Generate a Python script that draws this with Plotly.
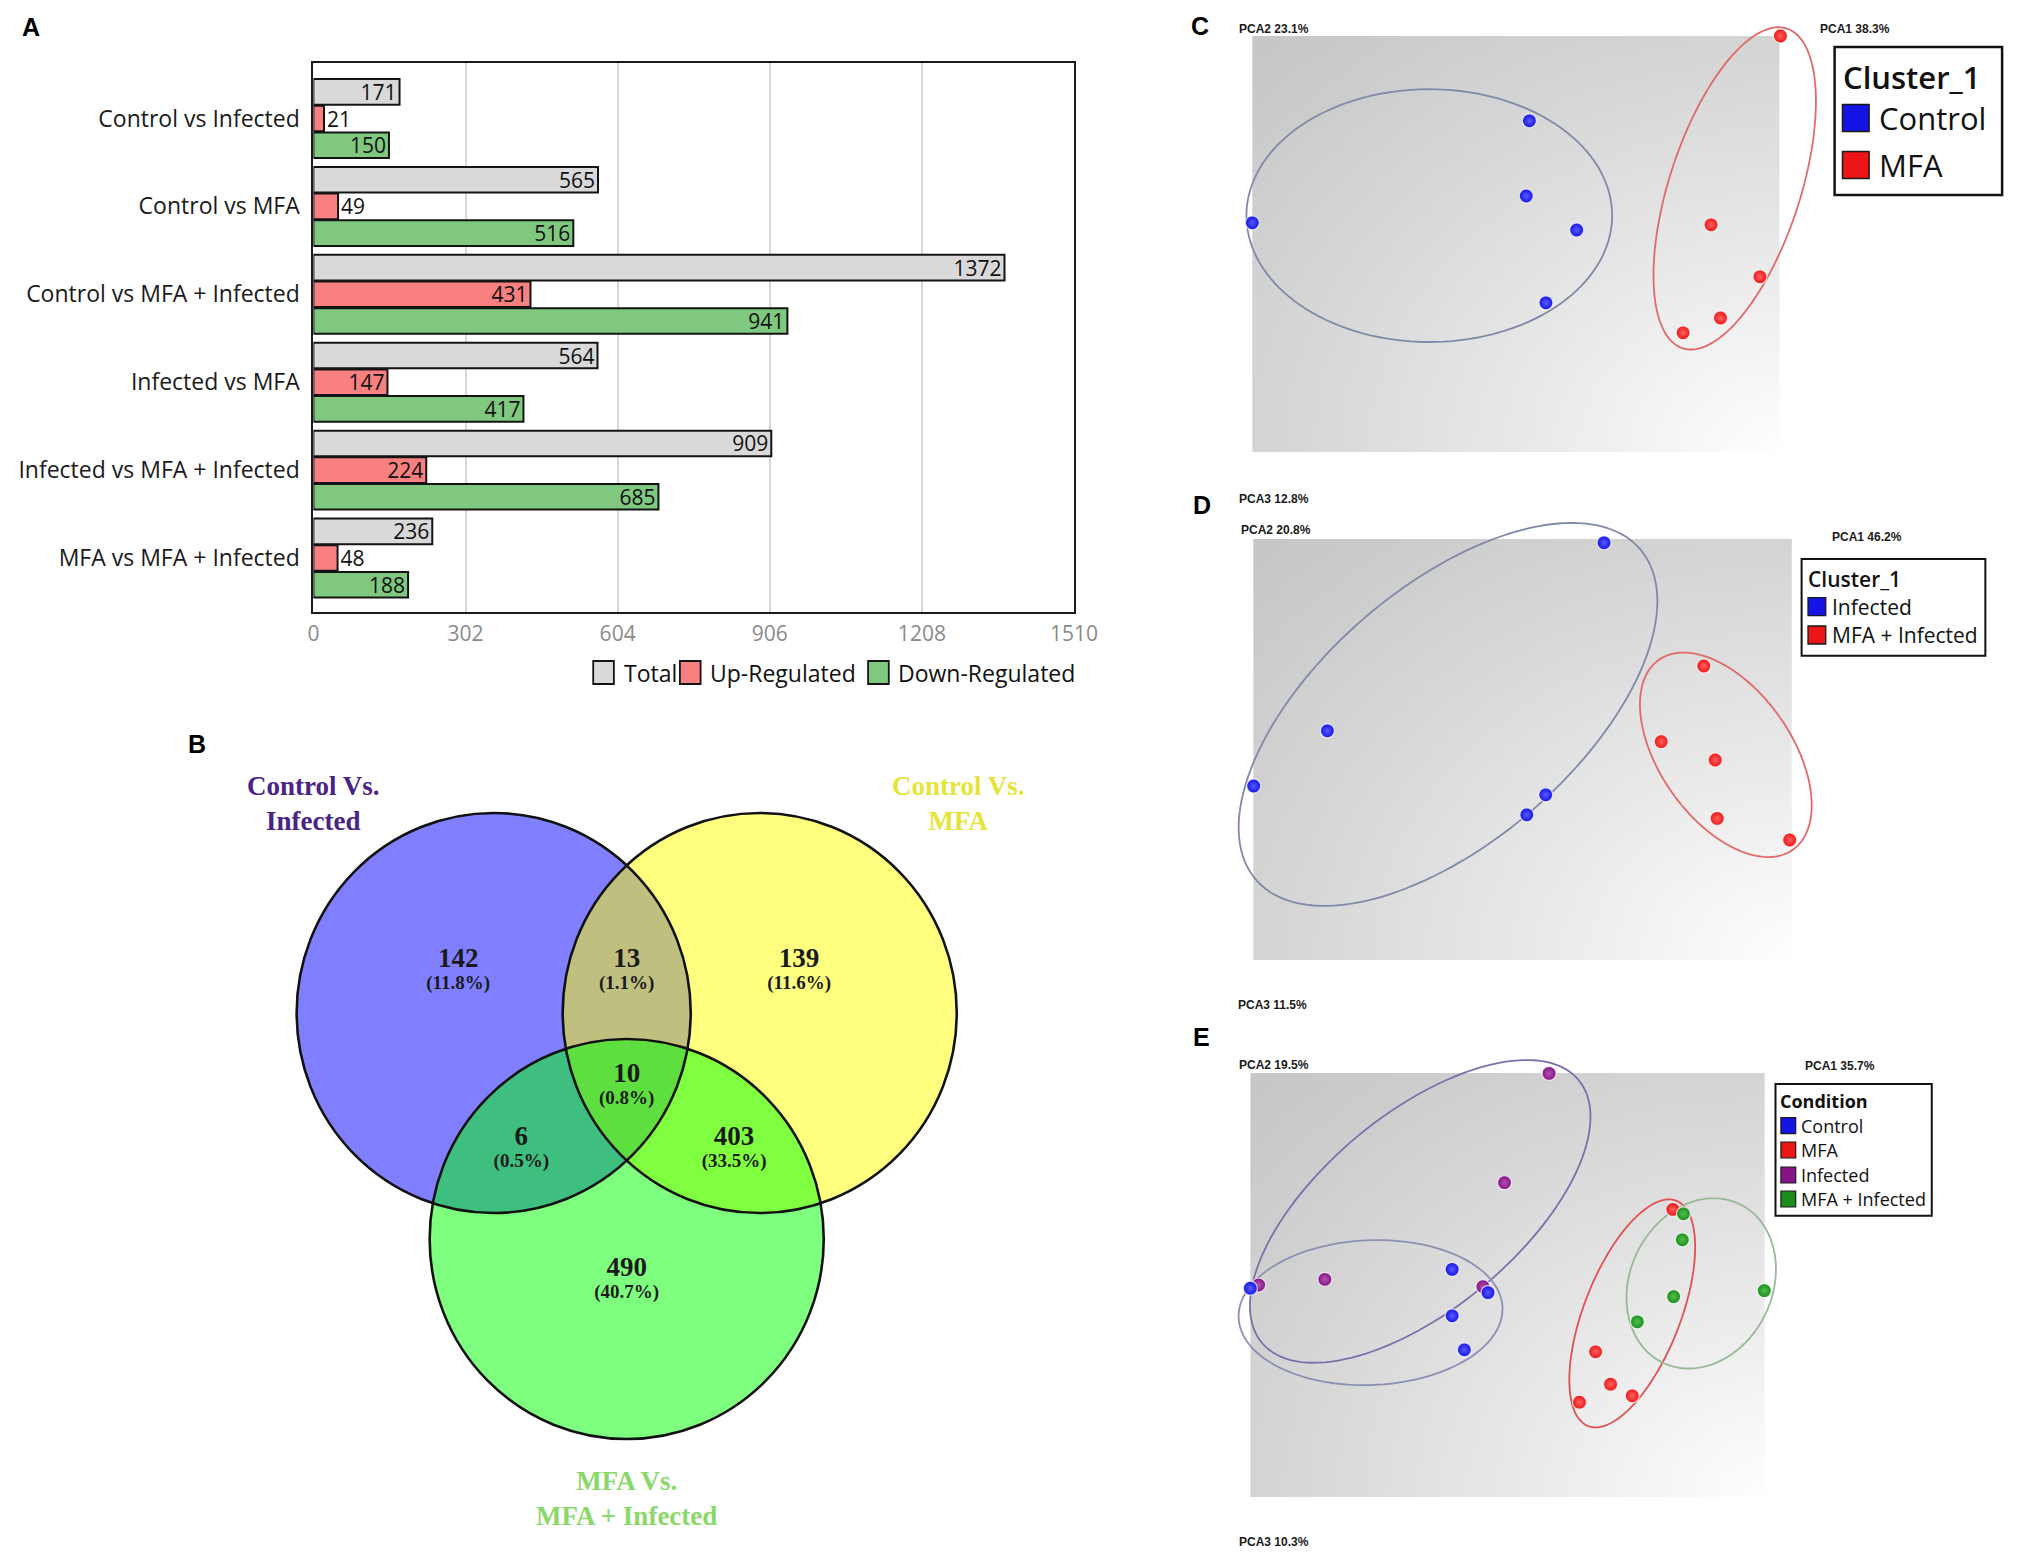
import base64, struct, zlib
import numpy as np
import plotly.graph_objects as go

W, H = 2033, 1558
def fx(x): return x / W
def fy(y): return 1 - y / H

# ---------------- Panel A data ----------------
comparisons = ["Control vs Infected", "Control vs MFA", "Control vs MFA + Infected",
               "Infected vs MFA", "Infected vs MFA + Infected", "MFA vs MFA + Infected"]
total_degs = [171, 565, 1372, 564, 909, 236]
up_regulated = [21, 49, 431, 147, 224, 48]
down_regulated = [150, 516, 941, 417, 685, 188]
bar_series = ["Total", "Up-Regulated", "Down-Regulated"]
x_ticks = [0, 302, 604, 906, 1208, 1510]

# ---------------- Panel B data ----------------
venn_sets = ["Control Vs.<br>Infected", "Control Vs.<br>MFA", "MFA Vs.<br>MFA + Infected"]
venn_counts = [142, 13, 139, 6, 10, 403, 490]   # CI only, CI&CM, CM only, CI&MI, all, CM&MI, MI only

# ---------------- Panels C-E data (PCA scores, plot units) ----------------
pcaC_control_x = [0.0, 70.3, 69.5, 82.3, 74.5]
pcaC_control_y = [57.3, 82.8, 64.0, 55.5, 37.3]
pcaC_mfa_x = [134.0, 116.4, 128.8, 118.8, 109.3]
pcaC_mfa_y = [104.0, 56.8, 43.8, 33.5, 29.8]

pcaD_infected_x = [89.0, 18.8, 0.1, 74.2, 69.4]
pcaD_infected_y = [104.3, 57.3, 43.5, 41.3, 36.3]
pcaD_mfainf_x = [114.3, 103.5, 117.2, 117.7, 136.1]
pcaD_mfainf_y = [73.5, 54.6, 50.0, 35.4, 30.0]

pcaE_infected_x = [75.8, 64.5, 18.9, 2.1, 59.0]
pcaE_infected_y = [105.9, 78.6, 54.4, 53.0, 52.6]
pcaE_control_x = [0.0, 51.2, 60.3, 51.2, 54.3]
pcaE_control_y = [52.2, 56.9, 51.1, 45.3, 36.8]
pcaE_mfa_x = [107.2, 87.6, 91.4, 96.9, 83.5]
pcaE_mfa_y = [71.9, 36.3, 28.2, 25.3, 23.7]
pcaE_mfainf_x = [109.9, 109.6, 130.4, 107.4, 98.2]
pcaE_mfainf_y = [70.8, 64.3, 51.6, 50.1, 43.8]

pca_variance_C = ["PCA2 23.1%", "PCA1 38.3%", "PCA3 12.8%"]
pca_variance_D = ["PCA2 20.8%", "PCA1 46.2%", "PCA3 11.5%"]
pca_variance_E = ["PCA2 19.5%", "PCA1 35.7%", "PCA3 10.3%"]

# group ellipses: (cx, cy, semi-major, semi-minor, angle deg)
ellC = [(44.9, 59.1, 46.4, 31.6, 0.0), (122.4, 65.9, 42.1, 16.6, 71.6)]
ellD = [(49.4, 61.4, 63.9, 32.1, 40.0), (119.9, 51.3, 29.2, 16.6, -54.0)]
ellE = [(43.1, 71.4, 51.9, 24.6, 39.0), (30.5, 46.1, 33.5, 18.1, 2.2),
        (96.9, 45.9, 30.3, 12.2, 68.2), (114.4, 53.4, 22.1, 18.0, 62.3)]

# ---------------- styles ----------------
SANS = "Open Sans"
SERIF = "Liberation Serif"
ARIAL = "Liberation Sans"
bar_colors = ["#d9d9d9", "#f88080", "#80c880"]
COL = {"Control": "#1414e6", "MFA": "#ec1616", "Infected": "#861486", "MFA + Infected": "#1c8c1c"}
COL_HI = {"Control": "#5a5aff", "MFA": "#ff6060", "Infected": "#b050b0", "MFA + Infected": "#50c050"}

fig = go.Figure()
shapes, annotations, images = [], [], []

# ================= Panel A =================
for name, vals, col in zip(bar_series, [total_degs, up_regulated, down_regulated], bar_colors):
    fig.add_trace(go.Bar(
        y=comparisons, x=vals, orientation="h", name=name,
        marker=dict(color=col, line=dict(color="#141414", width=2)),
        text=[str(v) for v in vals],
        textposition=["outside" if v < 60 else "inside" for v in vals],
        insidetextanchor="end", constraintext="none",
        textfont=dict(family=SANS, size=21, color="#111111"),
        cliponaxis=False, showlegend=False, hoverinfo="skip",
        xaxis="x", yaxis="y"))

# manual legend for panel A
legA = [("Total", 596, 625), ("Up-Regulated", 684, 713), ("Down-Regulated", 875, 903)]
for (lab, sx, tx), col in zip(legA, bar_colors):
    shapes.append(dict(type="rect", xref="paper", yref="paper",
                       x0=fx(sx), x1=fx(sx + 21), y0=fy(684), y1=fy(661),
                       fillcolor=col, line=dict(color="#141414", width=1.8)))
    annotations.append(dict(text=lab, xref="paper", yref="paper", x=fx(tx), y=fy(673),
                            xanchor="left", yanchor="middle", showarrow=False,
                            font=dict(family=SANS, size=23, color="#111111")))

# ================= Panel B (Venn) =================
VX0, VY0 = 630, 1013  # pixel origin of venn units
fig.update_layout(
    xaxis5=dict(domain=[fx(180), fx(1040)], range=[180 - VX0, 1040 - VX0], visible=False),
    yaxis5=dict(domain=[fy(1558), fy(740)], range=[VY0 - 1558, VY0 - 740], visible=False),
)
venn_centers = [(-135, 0), (135, 0), (0, -226)]
venn_r = 200
venn_fill = ["#0000ff", "#ffff00", "#00ff00"]
for (cx, cy), col in zip(venn_centers, venn_fill):
    shapes.append(dict(type="circle", xref="x5", yref="y5", layer="below",
                       x0=cx - venn_r, x1=cx + venn_r, y0=cy - venn_r, y1=cy + venn_r,
                       fillcolor=col, opacity=0.5, line=dict(width=0)))
for (cx, cy) in venn_centers:
    shapes.append(dict(type="circle", xref="x5", yref="y5", layer="below",
                       x0=cx - venn_r, x1=cx + venn_r, y0=cy - venn_r, y1=cy + venn_r,
                       fillcolor="rgba(0,0,0,0)", line=dict(color="#111111", width=2.6)))

venn_label_pos = [(-171, 53), (0, 53), (175, 53), (-107, -125), (0, -62), (109, -125), (0, -256)]
tot = sum(venn_counts)
pct_text = ["<b>(%.1f%%)</b>" % (c / tot * 100) for c in venn_counts]
fig.add_trace(go.Scatter(
    x=[p[0] for p in venn_label_pos], y=[p[1] for p in venn_label_pos],
    mode="text", text=["<b>%d</b>" % c for c in venn_counts],
    textfont=dict(family=SERIF, size=27, color="#1a1a1a"),
    cliponaxis=False, hoverinfo="skip", showlegend=False, xaxis="x5", yaxis="y5"))
fig.add_trace(go.Scatter(
    x=[p[0] for p in venn_label_pos], y=[p[1] - 24 for p in venn_label_pos],
    mode="text", text=pct_text,
    textfont=dict(family=SERIF, size=19, color="#1a1a1a"),
    cliponaxis=False, hoverinfo="skip", showlegend=False, xaxis="x5", yaxis="y5"))

venn_title_pos = [(-318, 210), (337, 210), (0, -485)]
venn_title_col = ["#4b2386", "#e4e43a", "#8ad86a"]
for txt_, (tx, ty), col in zip(venn_sets, venn_title_pos, venn_title_col):
    annotations.append(dict(text="<b>" + txt_.replace("<br>", "</b><br><b>") + "</b>",
                            xref="x5", yref="y5", x=tx, y=ty, showarrow=False,
                            xanchor="center", yanchor="middle", align="center",
                            font=dict(family=SERIF, size=27, color=col)))

# ================= PCA panels =================
S = 4.0  # px per unit


def gradient_png(n=96):
    u = np.linspace(0, 1, n)[None, :]
    v = np.linspace(0, 1, n)[:, None]
    d = np.clip(np.sqrt((1 - u) ** 2 + (1 - v) ** 2) / np.sqrt(2), 0, 1)
    val = 199 + 56 * (1 - d) ** 1.15
    arr = np.repeat(val[:, :, None], 3, axis=2).astype(np.uint8)
    raw = b"".join(b"\x00" + arr[i].tobytes() for i in range(n))

    def chunk(t, data):
        return (struct.pack(">I", len(data)) + t + data +
                struct.pack(">I", zlib.crc32(t + data) & 0xffffffff))
    png = (b"\x89PNG\r\n\x1a\n" +
           chunk(b"IHDR", struct.pack(">IIBBBBB", n, n, 8, 2, 0, 0, 0)) +
           chunk(b"IDAT", zlib.compress(raw, 9)) + chunk(b"IEND", b""))
    return "data:image/png;base64," + base64.b64encode(png).decode()


GRAD = gradient_png()


def ellipse_path(cx, cy, a, b, th_deg, n=140):
    t = np.linspace(0, 2 * np.pi, n)
    th = np.radians(th_deg)
    x = cx + a * np.cos(t) * np.cos(th) - b * np.sin(t) * np.sin(th)
    y = cy + a * np.cos(t) * np.sin(th) + b * np.sin(t) * np.cos(th)
    return "M " + " L ".join("%.2f,%.2f" % (xi, yi) for xi, yi in zip(x, y)) + " Z"


panels = [
    dict(ax="2", box=(1265, 1800, 36, 452), region=(1240, 1850, 15, 462),
         groups=[("Control", pcaC_control_x, pcaC_control_y), ("MFA", pcaC_mfa_x, pcaC_mfa_y)],
         ells=ellC, ellcol=["#7f8aa6", "#e06a6a"]),
    dict(ax="3", box=(1266, 1812.5, 539, 960), region=(1240, 1850, 515, 968),
         groups=[("Control", pcaD_infected_x, pcaD_infected_y), ("MFA", pcaD_mfainf_x, pcaD_mfainf_y)],
         ells=ellD, ellcol=["#7f8aa6", "#e06a6a"]),
    dict(ax="4", box=(1263, 1785, 1073, 1497), region=(1240, 1850, 1050, 1505),
         groups=[("Infected", pcaE_infected_x, pcaE_infected_y), ("Control", pcaE_control_x, pcaE_control_y),
                 ("MFA", pcaE_mfa_x, pcaE_mfa_y), ("MFA + Infected", pcaE_mfainf_x, pcaE_mfainf_y)],
         ells=ellE, ellcol=["#7e6fa8", "#8a90b0", "#e05252", "#98b898"]),
]

for p in panels:
    L, R, T, B = p["box"]
    rL, rR, rT, rB = p["region"]
    a = p["ax"]
    fig.update_layout(**{
        "xaxis" + a: dict(domain=[fx(rL), fx(rR)], range=[(rL - L) / S, (rR - L) / S], visible=False),
        "yaxis" + a: dict(domain=[fy(rB), fy(rT)], range=[(B - rB) / S, (B - rT) / S], visible=False),
    })
    bw, bh = (R - L) / S, (B - T) / S
    images.append(dict(source=GRAD, xref="x" + a, yref="y" + a, x=0, y=bh, sizex=bw, sizey=bh,
                       xanchor="left", yanchor="top", sizing="stretch", layer="below"))
    for e, c in zip(p["ells"], p["ellcol"]):
        shapes.append(dict(type="path", xref="x" + a, yref="y" + a, layer="between",
                           path=ellipse_path(*e), line=dict(color=c, width=1.8)))
    for g, xs, ys in p["groups"]:
        fig.add_trace(go.Scatter(
            x=xs, y=ys, mode="markers", name=g, showlegend=False, hoverinfo="skip",
            marker=dict(size=14, color=COL[g],
                        gradient=dict(type="radial", color=COL_HI[g]),
                        line=dict(color="rgba(255,255,255,0.75)", width=1.2)),
            cliponaxis=False, xaxis="x" + a, yaxis="y" + a))


def txt(t, x, y, size, family=SANS, color="#111111", anchor="left", weight=None):
    f = dict(family=family, size=size, color=color)
    if weight:
        f["weight"] = weight
    annotations.append(dict(text=t, xref="paper", yref="paper", x=fx(x), y=fy(y),
                            xanchor=anchor, yanchor="middle", showarrow=False, font=f))


# PCA axis labels
for t, x, y in [(pca_variance_C[0], 1249, 29), (pca_variance_C[1], 1839, 29),
                (pca_variance_C[2], 1249, 499),
                (pca_variance_D[0], 1251, 530), (pca_variance_D[1], 1851, 537),
                (pca_variance_D[2], 1248, 1005),
                (pca_variance_E[0], 1249, 1065), (pca_variance_E[1], 1824, 1066),
                (pca_variance_E[2], 1249, 1542)]:
    txt("<b>%s</b>" % t, x, y, 12, family=ARIAL, color="#1a1a1a")

# PCA legend (C)
shapes.append(dict(type="rect", xref="paper", yref="paper", x0=fx(1856), x1=fx(2026), y0=fy(195), y1=fy(47),
                   fillcolor="white", line=dict(color="#111111", width=2.5)))
txt("Cluster_1", 1862, 77, 31, weight=600)
for lab, yc in [("Control", 118), ("MFA", 165)]:
    shapes.append(dict(type="rect", xref="paper", yref="paper", x0=fx(1864), x1=fx(1891),
                       y0=fy(yc + 13.5), y1=fy(yc - 13.5), fillcolor=COL[lab],
                       line=dict(color="#1a1a1a", width=1.5)))
    txt(lab, 1899, yc, 31)

# legend D
shapes.append(dict(type="rect", xref="paper", yref="paper", x0=fx(1822.5), x1=fx(2009), y0=fy(655.7), y1=fy(559),
                   fillcolor="white", line=dict(color="#111111", width=2)))
txt("Cluster_1", 1827, 579, 21, weight=600)
for lab, col, yc in [("Infected", COL["Control"], 606.7), ("MFA + Infected", COL["MFA"], 635)]:
    shapes.append(dict(type="rect", xref="paper", yref="paper", x0=fx(1829), x1=fx(1847),
                       y0=fy(yc + 9), y1=fy(yc - 9), fillcolor=col, line=dict(color="#1a1a1a", width=1.3)))
    txt(lab, 1851, yc, 21)

# legend E
shapes.append(dict(type="rect", xref="paper", yref="paper", x0=fx(1796), x1=fx(1954.6), y0=fy(1215.7), y1=fy(1084),
                   fillcolor="white", line=dict(color="#111111", width=2)))
txt("<b>Condition</b>", 1799, 1101, 18)
for lab, yc in [("Control", 1125.7), ("MFA", 1150), ("Infected", 1175), ("MFA + Infected", 1199)]:
    shapes.append(dict(type="rect", xref="paper", yref="paper", x0=fx(1801.5), x1=fx(1816.5),
                       y0=fy(yc + 8), y1=fy(yc - 8), fillcolor=COL[lab], line=dict(color="#1a1a1a", width=1.2)))
    txt(lab, 1820, yc, 18)

# Panel letters
for lab, x, y in [("A", 25, 27), ("B", 194, 744), ("C", 1212, 26), ("D", 1214, 505), ("E", 1213, 1037)]:
    txt("<b>%s</b>" % lab, x, y, 25, family=ARIAL, color="#000000", anchor="center")

fig.update_layout(
    width=W, height=H, autosize=False,
    barmode="group", bargap=0.09, bargroupgap=0.04,
    xaxis=dict(domain=[fx(312), fx(1084)], range=[0, 1510], tickvals=x_ticks,
               showgrid=True, gridcolor="#d6d6d6", gridwidth=1.5, zeroline=False,
               showline=True, mirror=True, linecolor="#1a1a1a", linewidth=2,
               ticks="", ticklabelstandoff=2,
               tickfont=dict(family=SANS, size=21, color="#8a8a8a")),
    yaxis=dict(domain=[fy(612), fy(63.4)], type="category", categoryorder="array",
               categoryarray=comparisons, range=[5.614, -0.627],
               showgrid=False, zeroline=False, showline=True, mirror=True,
               linecolor="#1a1a1a", linewidth=2, ticks="", ticklabelstandoff=7,
               tickfont=dict(family=SANS, size=23, color="#1a1a1a")),
    shapes=shapes, annotations=annotations, images=images,
    showlegend=False, margin=dict(l=0, r=0, t=0, b=0),
    paper_bgcolor="white", plot_bgcolor="rgba(0,0,0,0)",
)

post = ("document.body.style.margin='0';"
        "document.documentElement.style.overflow='hidden';"
        "document.body.style.overflow='hidden';")
fig.write_html("out.html", post_script=post, config={"displayModeBar": False})
